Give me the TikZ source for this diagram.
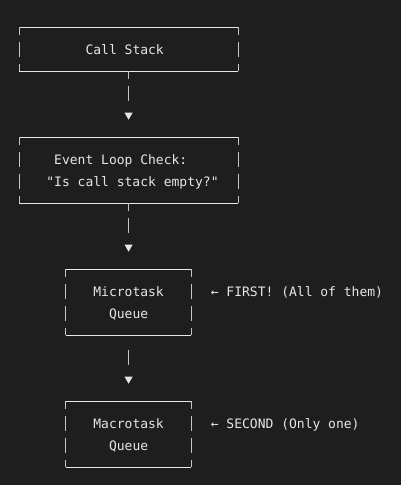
\documentclass[tikz,border=0pt]{standalone}
\usepackage{fontspec}
\setmonofont{DejaVu Sans Mono}
\definecolor{bg}{HTML}{1E1E1E}
\definecolor{fg}{HTML}{E6E6E6}
\definecolor{hl}{HTML}{E8E8E8}
\definecolor{vl}{HTML}{C4C4C4}
\tikzset{
  boxnode/.style={rectangle, inner sep=0pt, outer sep=0pt},
  hline/.style={draw=hl, line width=1pt},
  vline/.style={draw=vl, line width=1pt, dash pattern=on 15pt off 7pt, dash phase=7.5pt},
  pipe/.style={draw=vl, line width=1pt, dash pattern=on 15pt off 7pt, dash phase=7.5pt, shorten >=12.2pt},
  pipesolid/.style={draw=vl, line width=1pt, shorten <=14.5pt, shorten >=12.2pt},
  tip/.style={fill=hl},
  txt/.style={inner sep=0pt, outer sep=0pt, anchor=base west, text=fg, font=\fontsize{13}{22}\selectfont\ttfamily}
}
\newcommand{\asciibox}[1]{%
  \draw[hline] (#1.north west) -- (#1.north east);
  \draw[hline] (#1.south west) -- (#1.south east);
  \draw[vline] (#1.north west) -- (#1.south west);
  \draw[vline] (#1.north east) -- (#1.south east);
}
\newcommand{\downtip}[1]{%
  \fill[tip] (#1) ++(-4,0) -- ++(8,0) -- ++(-4,7) -- cycle;
}
\begin{document}
\begin{tikzpicture}[x=1pt, y=-1pt]
\fill[bg] (0,0) rectangle (401,485);
\useasboundingbox (0,0) rectangle (401,485);

% boxes
\node[boxnode, minimum width=219.2pt, minimum height=44pt] (cs) at (128.6,49) {};
\node[boxnode, minimum width=219.2pt, minimum height=66pt] (el) at (128.6,170) {};
\node[boxnode, minimum width=125.3pt, minimum height=66pt] (mi) at (128.6,302) {};
\node[boxnode, minimum width=125.3pt, minimum height=66pt] (ma) at (128.6,434) {};
\asciibox{cs}
\asciibox{el}
\asciibox{mi}
\asciibox{ma}

% texts
\node[txt] (t1) at (85.56,54.2) {Call Stack};
\node[txt] (t2) at (54.24,164.2) {Event Loop Check:};
\node[txt] (t3) at (46.41,186.2) {"Is call stack empty?"};
\node[txt] (t4) at (93.39,296.2) {Microtask};
\node[txt] (t5) at (109.05,318.2) {Queue};
\node[txt] (t6) at (210.84,296.2) {← FIRST! (All of them)};
\node[txt] (t7) at (93.39,428.2) {Macrotask};
\node[txt] (t8) at (109.05,450.2) {Queue};
\node[txt] (t9) at (210.84,428.2) {← SECOND (Only one)};

% arrow tips
\coordinate (a1) at (128.6,112.7);
\coordinate (a2) at (128.6,244.7);
\coordinate (a3) at (128.6,376.7);
\downtip{a1}
\downtip{a2}
\downtip{a3}

% connectors
\draw[pipe] (cs.south) -- (a1);
\draw[pipe] (el.south) -- (a2);
\draw[pipesolid] (mi.south) -- (a3);
\end{tikzpicture}
\end{document}
